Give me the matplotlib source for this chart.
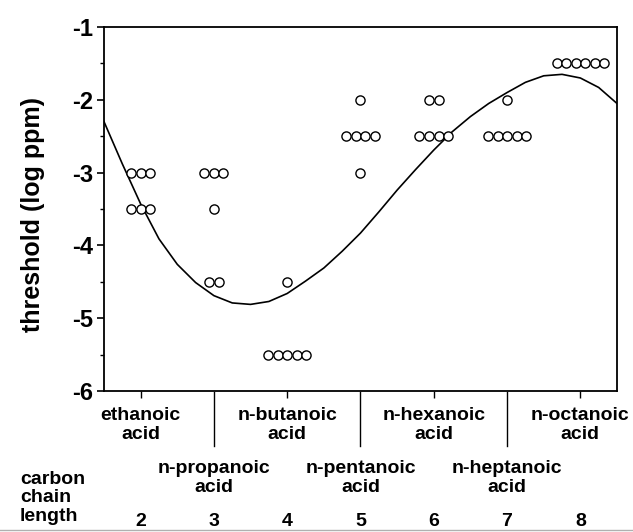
import matplotlib
matplotlib.use('Agg')
import matplotlib.pyplot as plt
import matplotlib.transforms as mtransforms
from matplotlib.lines import Line2D
import numpy as np

plt.rcParams['font.family'] = ['Liberation Sans', 'DejaVu Sans']
plt.rcParams['font.weight'] = 'bold'

# carbon chain length and acid names
chain_length = [2, 3, 4, 5, 6, 7, 8]
acid_names = ['ethanoic\nacid', 'n-propanoic\nacid', 'n-butanoic\nacid',
              'n-pentanoic\nacid', 'n-hexanoic\nacid', 'n-heptanoic\nacid',
              'n-octanoic\nacid']

# threshold values (log ppm), one list per acid
ethanoic = [-3, -3, -3, -3.5, -3.5, -3.5]
propanoic = [-3, -3, -3, -3.5, -4.5, -4.5]
butanoic = [-4.5, -5.5, -5.5, -5.5, -5.5, -5.5]
pentanoic = [-2, -2.5, -2.5, -2.5, -2.5, -3]
hexanoic = [-2, -2, -2.5, -2.5, -2.5, -2.5]
heptanoic = [-2, -2.5, -2.5, -2.5, -2.5, -2.5]
octanoic = [-1.5, -1.5, -1.5, -1.5, -1.5, -1.5]
thresholds = [ethanoic, propanoic, butanoic, pentanoic, hexanoic, heptanoic, octanoic]

# fitted curve
curve_x = [1.5, 1.75, 2.0, 2.25, 2.5, 2.75, 3.0, 3.25, 3.5, 3.75, 4.0, 4.25,
           4.5, 4.75, 5.0, 5.25, 5.5, 5.75, 6.0, 6.25, 6.5, 6.75, 7.0, 7.25,
           7.5, 7.75, 8.0, 8.25, 8.5]
curve_y = [-2.30, -2.88, -3.43, -3.91, -4.26, -4.51, -4.69, -4.79, -4.81,
           -4.77, -4.66, -4.49, -4.31, -4.08, -3.83, -3.54, -3.24, -2.96,
           -2.69, -2.44, -2.23, -2.05, -1.90, -1.76, -1.67, -1.65, -1.70,
           -1.83, -2.05]

fig = plt.figure(figsize=(6.33, 5.32), dpi=100)
ax = fig.add_axes([0.1643, 0.265, 0.8104, 0.6842])

# circles side by side where values repeat
step = 0.13
for cx, vals in zip(chain_length, thresholds):
    for v in sorted(set(vals)):
        n = vals.count(v)
        xs = cx + (np.arange(n) - (n - 1) / 2) * step
        ax.plot(xs, [v] * n, 'o', ms=6.6, mfc='white', mec='black', mew=1.0,
                linestyle='none', zorder=3)

ax.plot(curve_x, curve_y, color='black', lw=1.2, zorder=2)

ax.set_xlim(1.5, 8.5)
ax.set_ylim(-6, -1)
ax.set_yticks([-1, -2, -3, -4, -5, -6])
ax.set_yticklabels(['-1', '-2', '-3', '-4', '-5', '-6'])
ax.set_yticks(np.arange(-5.5, -1, 1), minor=True)
ax.set_xticks([2, 4, 6, 8])
ax.set_xticklabels([])
ax.tick_params(axis='y', which='major', length=5, width=1.2, pad=3, labelsize=17)
ax.tick_params(axis='y', which='minor', length=3, width=1.0)
ax.tick_params(axis='x', which='major', length=5, width=1.0)
for s in ax.spines.values():
    s.set_linewidth(1.3)

# separators and acid names under the axis
trans = mtransforms.blended_transform_factory(ax.transData, fig.transFigure)
for cx in [3, 5, 7]:
    ax.add_line(Line2D([cx, cx], [1 - 392 / 532, 1 - 446 / 532], transform=trans,
                       color='black', lw=1.0, clip_on=False))

for cx, name in zip(chain_length, acid_names):
    if cx % 2 == 0:
        y = 1 - 425 / 532
    else:
        y = 1 - 478 / 532
    ax.text(cx, y, name, transform=trans, ha='center', va='center',
            fontsize=14, fontweight='bold', linespacing=1.2, clip_on=False)
    ax.text(cx, 1 - 521 / 532, str(cx), transform=trans, ha='center',
            va='center', fontsize=14, fontweight='bold', clip_on=False)

fig.text(20 / 633, 1 - 498 / 532, 'carbon\nchain\nlength', ha='left', va='center',
         fontsize=14, fontweight='bold', linespacing=1.15)

fig.text(33 / 633, 1 - 215 / 532, 'threshold (log ppm)', rotation=90,
         ha='center', va='center', fontsize=18, fontweight='bold')

fig.add_artist(Line2D([0, 1], [1 - 530 / 532, 1 - 530 / 532], color='#b0b0b0',
                      lw=1.0, transform=fig.transFigure))

fig.savefig('out.png', dpi=100)
